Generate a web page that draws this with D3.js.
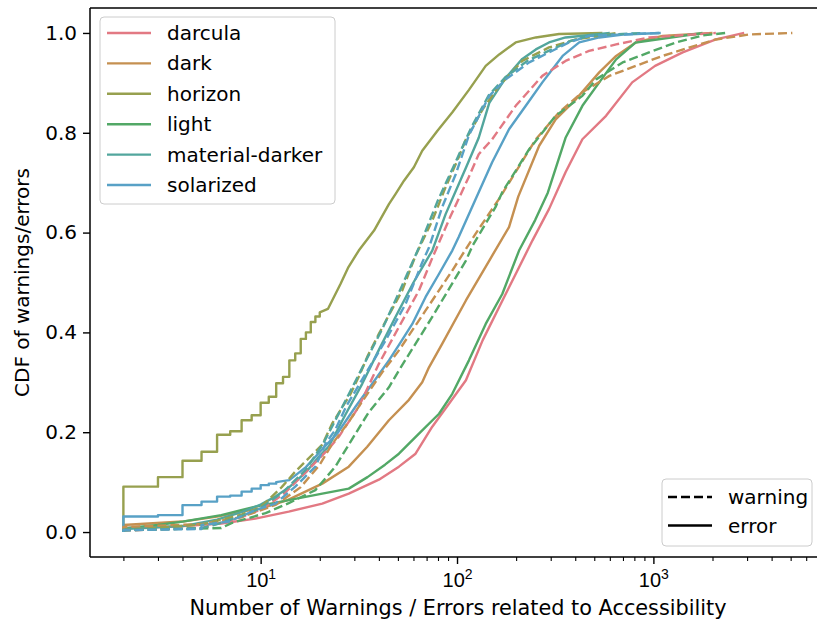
<!DOCTYPE html>
<html>
<head>
<meta charset="utf-8">
<script src="https://cdn.jsdelivr.net/npm/d3@7"></script>
<style>
  body { margin: 0; background: #fff; }
  svg { font-family: "DejaVu Sans", sans-serif; }
</style>
</head>
<body>
<svg id="chart" width="817" height="624"></svg>
<script>
// themes and the kinds of finding
const themes = ["darcula", "dark", "horizon", "light", "material-darker", "solarized"];
const kinds = ["warning", "error"];
const yTicks = [0, 0.2, 0.4, 0.6, 0.8, 1.0];
const xMajor = [10, 100, 1000];

// ecdf points [count, cdf]
const darculaError = [[2,0],[2,0.008],[3.7,0.011],[6.3,0.017],[9.4,0.027],[13.9,0.041],[20.6,0.057],[28.1,0.077],[40,0.105],[50.6,0.131],[61.5,0.157],[74.8,0.211],[91,0.257],[111,0.304],[135,0.384],[164,0.451],[199,0.517],[242,0.584],[294,0.647],[357,0.721],[435,0.787],[574,0.834],[780,0.901],[1020,0.934],[1410,0.961],[2080,0.987],[2900,1.0]];
const darkError = [[2,0],[2,0.014],[4,0.021],[6,0.031],[8,0.041],[10,0.047],[13.7,0.064],[20.6,0.097],[28.1,0.131],[34.9,0.171],[45,0.224],[56.9,0.265],[66.5,0.3],[72,0.33],[84,0.377],[111,0.464],[146,0.544],[184,0.611],[205,0.672],[262,0.774],[318,0.827],[403,0.867],[530,0.921],[646,0.954],[813,0.981],[1113,0.994],[2000,1.0]];
const horizonError = [[2,0],[2,0.091],[3,0.091],[3,0.11],[4,0.11],[4,0.143],[5,0.143],[5,0.161],[6,0.161],[6,0.195],[7,0.195],[7,0.202],[8,0.202],[8,0.224],[9,0.224],[9,0.234],[10,0.234],[10,0.259],[11,0.259],[11,0.271],[12,0.271],[12,0.298],[13,0.298],[13,0.311],[14,0.311],[14,0.344],[15,0.344],[15,0.358],[16,0.358],[16,0.387],[17,0.387],[17,0.4],[18,0.4],[18,0.421],[19,0.421],[19,0.432],[20,0.432],[20,0.44],[22,0.447],[25.5,0.497],[28,0.531],[31.6,0.564],[37.8,0.604],[45,0.657],[48.6,0.677],[53.7,0.704],[60.3,0.731],[66.5,0.764],[79.5,0.804],[94.7,0.841],[115,0.886],[140,0.934],[164,0.957],[199,0.981],[252,0.991],[331,0.998],[550,1.0]];
const lightError = [[2,0],[2,0.007],[3,0.014],[4,0.021],[6.3,0.034],[9.4,0.051],[13.9,0.064],[20.6,0.077],[28.1,0.087],[35,0.11],[43,0.135],[50.6,0.157],[64,0.197],[81,0.237],[94.6,0.277],[115,0.344],[140,0.417],[170,0.477],[207,0.564],[250,0.625],[290,0.68],[357,0.79],[435,0.854],[530,0.901],[646,0.947],[813,0.981],[1780,1.0]];
const materialError = [[2,0],[2,0.006],[4,0.012],[6,0.025],[8,0.04],[10,0.055],[12,0.072],[14,0.09],[17,0.12],[19.5,0.148],[22.2,0.171],[27,0.235],[32.9,0.297],[40,0.365],[48.6,0.431],[60,0.5],[74.8,0.564],[87.5,0.637],[111,0.73],[129,0.79],[146,0.86],[177,0.91],[215,0.948],[252,0.967],[294,0.981],[357,0.991],[600,1.0]];
const solarizedError = [[2,0],[2,0.031],[3,0.031],[3,0.034],[4,0.034],[4,0.054],[5,0.054],[5,0.061],[6,0.061],[6,0.071],[7,0.071],[7,0.073],[8,0.073],[8,0.081],[9,0.081],[9,0.087],[10,0.087],[10,0.094],[11,0.094],[11,0.097],[12,0.097],[12,0.1],[14,0.104],[17,0.13],[20.6,0.166],[24.5,0.197],[30.4,0.251],[37,0.297],[45,0.344],[51.6,0.38],[59.2,0.417],[69.2,0.471],[80.9,0.517],[94.6,0.564],[102,0.591],[124,0.666],[151,0.741],[184,0.807],[224,0.854],[272,0.901],[345,0.954],[419,0.981],[530,0.991],[700,0.997],[1090,1.0]];

const darculaWarning = [[2,0],[2,0.003],[5,0.008],[8,0.03],[10,0.045],[13,0.075],[17,0.12],[22,0.165],[25,0.191],[31.6,0.251],[40,0.337],[50.6,0.411],[64,0.484],[75,0.55],[92,0.63],[115,0.712],[129,0.757],[151,0.787],[199,0.854],[272,0.914],[357,0.944],[470,0.964],[646,0.977],[950,0.991],[2080,1.0]];
const darkWarning = [[2,0],[2,0.01],[5,0.016],[8,0.03],[12,0.055],[16,0.09],[20,0.135],[23,0.175],[28,0.22],[34,0.27],[41.6,0.32],[50.6,0.364],[69.2,0.444],[94.6,0.524],[124,0.597],[164,0.668],[252,0.787],[331,0.841],[435,0.881],[597,0.914],[813,0.934],[1113,0.954],[1530,0.971],[2080,0.987],[3080,0.997],[5100,1.0]];
const horizonWarning = [[2,0],[2,0.004],[5,0.015],[8,0.035],[10,0.05],[12.8,0.09],[15,0.121],[20.6,0.175],[23.1,0.217],[28.7,0.277],[31.6,0.311],[34.9,0.351],[40,0.397],[45.9,0.441],[52.6,0.484],[61.5,0.554],[74.8,0.624],[87.5,0.691],[102,0.751],[111,0.787],[120,0.81],[135,0.847],[164,0.894],[215,0.944],[294,0.971],[403,0.987],[650,1.0]];
const lightWarning = [[2,0],[2,0.004],[6.3,0.008],[7.1,0.018],[10.6,0.038],[13.9,0.058],[19,0.084],[24,0.131],[28.1,0.175],[35.5,0.24],[45,0.29],[50.6,0.324],[74.8,0.431],[111,0.544],[120,0.574],[157,0.651],[170,0.681],[233,0.767],[318,0.834],[435,0.874],[511,0.907],[697,0.941],[950,0.961],[1300,0.981],[1780,0.995],[2340,1.0]];
const materialWarning = [[2,0],[2,0.003],[5,0.008],[6,0.016],[8,0.032],[10,0.048],[13,0.08],[17,0.125],[21,0.18],[26,0.25],[33,0.33],[42,0.41],[52,0.49],[64,0.57],[80,0.665],[98,0.74],[118,0.81],[145,0.875],[177,0.912],[230,0.945],[300,0.966],[380,0.984],[480,0.995],[900,1.0]];
const solarizedWarning = [[2,0],[2,0.004],[5,0.006],[5,0.014],[6.9,0.021],[9.4,0.044],[11.9,0.057],[15,0.091],[19,0.131],[21.4,0.177],[24,0.205],[27.2,0.251],[34.2,0.317],[43.3,0.384],[54.7,0.457],[66.5,0.54],[72,0.57],[84,0.651],[98.5,0.717],[115,0.795],[146,0.874],[177,0.907],[233,0.941],[294,0.961],[372,0.981],[470,0.994],[1070,1.0]];

const colors = ["#e27983", "#c59051", "#97a04f", "#52a866", "#52a69d", "#58a1c6"];

const series = [
  {theme: 0, kind: "error", pts: darculaError},
  {theme: 1, kind: "error", pts: darkError},
  {theme: 2, kind: "error", pts: horizonError},
  {theme: 3, kind: "error", pts: lightError},
  {theme: 4, kind: "error", pts: materialError},
  {theme: 5, kind: "error", pts: solarizedError},
  {theme: 0, kind: "warning", pts: darculaWarning},
  {theme: 1, kind: "warning", pts: darkWarning},
  {theme: 2, kind: "warning", pts: horizonWarning},
  {theme: 3, kind: "warning", pts: lightWarning},
  {theme: 4, kind: "warning", pts: materialWarning},
  {theme: 5, kind: "warning", pts: solarizedWarning}
];

const svg = d3.select("#chart");
const mLeft = 90, mRight = 826, mTop = 8, mBottom = 557;
const lw = 2.4, dash = "9,4";

let x = d3.scaleLog().domain([Math.pow(10, 0.131), Math.pow(10, 3.879)]).range([mLeft, mRight]);
let y = d3.scaleLinear().domain([-0.05, 1.05]).range([mBottom, mTop]);

svg.append("clipPath").attr("id", "clip")
  .append("rect").attr("x", mLeft).attr("y", mTop).attr("width", mRight - mLeft).attr("height", mBottom - mTop);

let line = d3.line()
  .x(d => x(d[0]))
  .y(d => y(d[1]));

let g = svg.append("g").attr("clip-path", "url(#clip)");
series.forEach(s => {
  g.append("path")
    .datum(s.pts)
    .attr("d", line)
    .attr("fill", "none")
    .attr("stroke", colors[s.theme])
    .attr("stroke-width", lw)
    .attr("stroke-dasharray", s.kind == "warning" ? dash : null)
    .attr("stroke-linejoin", "round");
});

// axes
let yAxis = svg.append("g")
  .attr("transform", `translate(${mLeft},0)`)
  .call(d3.axisLeft(y).tickValues(yTicks).tickFormat(d3.format(".1f")).tickSize(7).tickPadding(6));
yAxis.select(".domain").remove();
yAxis.selectAll("line").attr("stroke", "#000").attr("stroke-width", 1.4);
yAxis.selectAll("text").attr("font-size", 20).attr("fill", "#000").attr("font-family", "DejaVu Sans");

let minor = x.ticks().filter(t => xMajor.indexOf(t) < 0 && x(t) < 817);
let xMinor = svg.append("g")
  .attr("transform", `translate(0,${mBottom})`)
  .call(d3.axisBottom(x).tickValues(minor).tickFormat("").tickSize(4));
xMinor.select(".domain").remove();
xMinor.selectAll("line").attr("stroke", "#000").attr("stroke-width", 1.1);

let xAxis = svg.append("g")
  .attr("transform", `translate(0,${mBottom})`)
  .call(d3.axisBottom(x).tickValues(xMajor).tickFormat("").tickSize(7));
xAxis.select(".domain").remove();
xAxis.selectAll("line").attr("stroke", "#000").attr("stroke-width", 1.4);
xAxis.selectAll(".tick").append("text")
  .attr("y", 30)
  .attr("text-anchor", "middle")
  .attr("font-size", 20)
  .attr("fill", "#000")
  .each(function(d) {
    let t = d3.select(this);
    t.append("tspan").text("10");
    t.append("tspan").attr("font-size", 14).attr("dy", -8).text(Math.round(Math.log10(d)));
  });

// spines
svg.append("line").attr("x1", mLeft).attr("x2", mLeft).attr("y1", mTop).attr("y2", mBottom)
  .attr("stroke", "#000").attr("stroke-width", 1.5);
svg.append("line").attr("x1", mLeft).attr("x2", mRight).attr("y1", mBottom).attr("y2", mBottom)
  .attr("stroke", "#000").attr("stroke-width", 1.5);
svg.append("line").attr("x1", mLeft).attr("x2", mRight).attr("y1", mTop).attr("y2", mTop)
  .attr("stroke", "#000").attr("stroke-width", 1.5);

// axis labels
svg.append("text")
  .attr("x", 458).attr("y", 615)
  .attr("text-anchor", "middle").attr("font-size", 20.8)
  .text("Number of Warnings / Errors related to Accessibility");
svg.append("text")
  .attr("transform", `translate(29,${(mTop + mBottom) / 2}) rotate(-90)`)
  .attr("text-anchor", "middle").attr("font-size", 20)
  .text("CDF of warnings/errors");

// theme legend
let lg = svg.append("g");
lg.append("rect").attr("x", 100).attr("y", 17).attr("width", 235).attr("height", 187)
  .attr("rx", 4).attr("fill", "#fff").attr("fill-opacity", 0.8)
  .attr("stroke", "#cccccc").attr("stroke-width", 1);
themes.forEach((t, i) => {
  let cy = 33 + i * 30.4;
  lg.append("line").attr("x1", 107).attr("x2", 151).attr("y1", cy).attr("y2", cy)
    .attr("stroke", colors[i]).attr("stroke-width", lw);
  lg.append("text").attr("x", 167).attr("y", cy + 7).attr("font-size", 20).text(t);
});

// style legend
let lg2 = svg.append("g");
lg2.append("rect").attr("x", 662).attr("y", 479).attr("width", 150).attr("height", 67)
  .attr("rx", 4).attr("fill", "#fff").attr("fill-opacity", 0.8)
  .attr("stroke", "#cccccc").attr("stroke-width", 1);
kinds.forEach((k, i) => {
  let cy = 497 + i * 28.5;
  lg2.append("line").attr("x1", 668).attr("x2", 712).attr("y1", cy).attr("y2", cy)
    .attr("stroke", "#000").attr("stroke-width", lw)
    .attr("stroke-dasharray", k == "warning" ? dash : null);
  lg2.append("text").attr("x", 728).attr("y", cy + 7).attr("font-size", 20).text(k);
});
</script>
</body>
</html>
